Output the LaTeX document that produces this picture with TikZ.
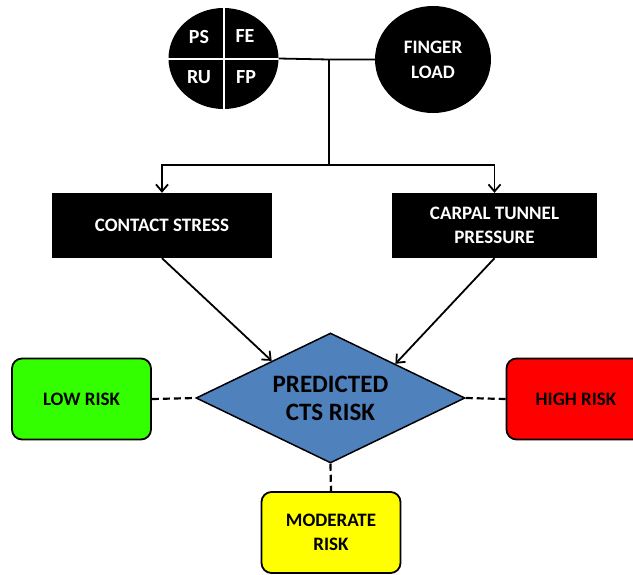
\documentclass[tikz,border=0pt]{standalone}
\usepackage{fontspec}
\setmainfont{Carlito}
\usetikzlibrary{shapes.geometric,arrows.meta,calc}
\definecolor{lowgreen}{HTML}{33FF00}
\definecolor{highred}{HTML}{FF0000}
\definecolor{modyellow}{HTML}{FFFF00}
\definecolor{diablue}{HTML}{4F81BD}
\tikzset{
  blackbox/.style={fill=black,text=white,font=\bfseries\fontsize{19}{24}\selectfont,align=center,inner sep=0pt},
  riskbox/.style={draw=black,line width=1.8pt,rounded corners=10pt,font=\bfseries\fontsize{19}{24}\selectfont,align=center,inner sep=0pt,minimum width=139pt,minimum height=81pt},
  conn/.style={line width=1.8pt},
  arr/.style={conn,-{Straight Barb[length=7pt,width=12pt,line width=1.8pt]}},
  dashline/.style={line width=2.2pt,dash pattern=on 7pt off 4pt},
  qlabel/.style={text=white,font=\bfseries\fontsize{20}{24}\selectfont}
}
\begin{document}
\begin{tikzpicture}[x=1pt,y=-1pt]
\useasboundingbox (0,0) rectangle (633,574);
% quadrant circle
\node[ellipse,fill=black,minimum width=110pt,minimum height=101pt,inner sep=0pt] (quad) at (223.5,58.5) {};
\draw[white,line width=2pt] (quad.north) -- (quad.south);
\draw[white,line width=2pt] (quad.west) -- (quad.east);
\node[qlabel] (ps) at (199,37) {PS};
\node[qlabel] (fe) at (245,36) {FE};
\node[qlabel] (ru) at (199,77) {RU};
\node[qlabel] (fp) at (246,77) {FP};
% finger load
\node[ellipse,fill=black,text=white,minimum width=116pt,minimum height=107pt,inner sep=0pt,align=center,font=\bfseries\fontsize{19}{25}\selectfont] (fl) at (433,59.5) {FINGER\\LOAD};
% boxes
\node[blackbox,minimum width=220pt,minimum height=65pt] (cs) at (162,225.5) {CONTACT STRESS};
\node[blackbox,minimum width=205pt,minimum height=65pt] (ctp) at (494.5,225.5) {CARPAL TUNNEL\\PRESSURE};
% diamond
\node[diamond,draw=black,fill=diablue,line width=1.5pt,minimum width=269pt,minimum height=130pt,inner sep=0pt,aspect=2.07,align=center,font=\bfseries\fontsize{25}{28}\selectfont] (pr) at (330.5,398) {PREDICTED\\CTS RISK};
% risk boxes
\node[riskbox,fill=lowgreen] (low) at (81.5,399) {LOW RISK};
\node[riskbox,fill=highred] (high) at (576,399) {HIGH RISK};
\node[riskbox,fill=modyellow] (mod) at (331,532.5) {MODERATE\\RISK};
% connectors
\coordinate (j) at (329,59.5);
\coordinate (jb) at (329,165);
\draw[conn] (quad.east) -- (j) -- (fl.west);
\draw[conn] (j) -- (jb);
\draw[arr] (jb) -| (cs.north);
\draw[arr] (jb) -| (ctp.north);
\draw[arr] (cs.south) -- ($(pr.west)!0.565!(pr.north)$);
\draw[arr] (ctp.south) -- ($(pr.north)!0.48!(pr.east)$);
\draw[dashline] (low.east) -- (pr.west);
\draw[dashline] (pr.east) -- (high.west);
\draw[dashline] (pr.south) -- (mod.north);
\end{tikzpicture}
\end{document}
